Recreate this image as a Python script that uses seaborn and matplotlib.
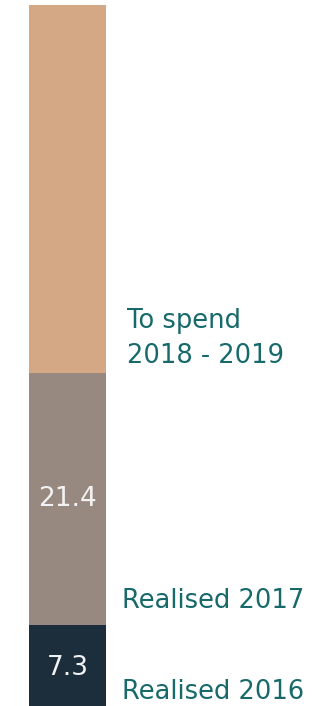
import pandas as pd
import seaborn as sns
import matplotlib.pyplot as plt

############# Data ################
segments = ['Realised 2016', 'Realised 2017', 'To spend\n2018 - 2019']
values = [7.3, 21.4, 31.3]
value_labels = ['7.3', '21.4', '']
colors = ['#1c2d3c', '#978880', '#d4a785']
text_color = '#17696a'

############# Build stacked layers (cumulative) ################
df = pd.DataFrame({'segment': segments, 'value': values})
df['top'] = df['value'].cumsum()
df['bottom'] = df['top'] - df['value']
df['bar'] = 'total'

sns.set_style('white')
plt.rcParams['font.family'] = ['DejaVu Sans']

fig = plt.figure(figsize=(3.28, 7.06), dpi=100)
ax = fig.add_axes([0, 0, 1, 1])

# draw tallest cumulative bar first so the lower ones sit on top of it
for i in reversed(range(len(df))):
    sns.barplot(data=df.iloc[[i]], x='bar', y='top', color=colors[i],
                saturation=1, width=0.8, linewidth=0, ax=ax)

# value labels inside the segments
for i, row in df.iterrows():
    lab = value_labels[i]
    if lab:
        ax.text(0, (row['bottom'] + row['top']) / 2 + 0.25, lab, ha='center',
                va='center_baseline', color='#f2f2f2', fontsize=19)

# segment names to the right of the bar
ax.text(0.372, 0.0099, 'Realised 2016', transform=ax.transAxes,
        color=text_color, fontsize=18.5, va='baseline')
ax.text(0.372, 0.1388, 'Realised 2017', transform=ax.transAxes,
        color=text_color, fontsize=18.5, va='baseline')
ax.text(0.388, 0.5354, 'To spend', transform=ax.transAxes,
        color=text_color, fontsize=18.5, va='baseline')
ax.text(0.388, 0.4858, '2018 - 2019', transform=ax.transAxes,
        color=text_color, fontsize=18.5, va='baseline')

ax.set_xlim(-0.7105, 2.742)
ax.set_ylim(0.4, 60.4)
ax.set_axis_off()

fig.savefig('out.png', dpi=100)
